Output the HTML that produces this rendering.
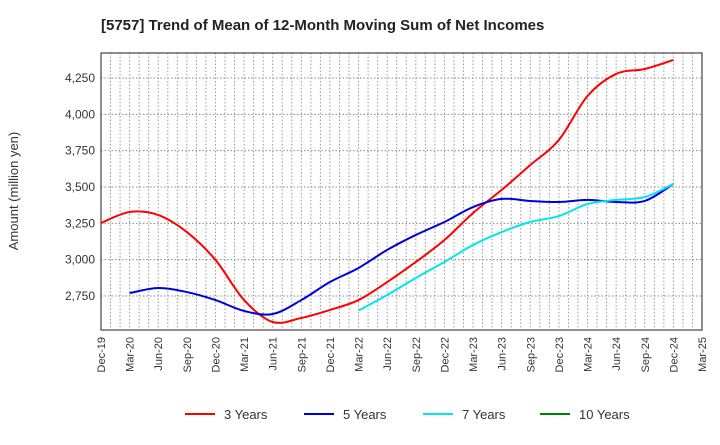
<!DOCTYPE html>
<html><head><meta charset="utf-8"><style>
body{margin:0;background:#fff;font-family:"Liberation Sans",sans-serif}
</style></head><body>
<svg width="720" height="440" xmlns="http://www.w3.org/2000/svg">
<text x="101" y="30" font-size="15" font-weight="bold" fill="#222">[5757]  Trend of Mean of 12-Month Moving Sum of Net Incomes</text>
<text transform="translate(18,191) rotate(-90)" text-anchor="middle" font-size="13" fill="#333">Amount (million yen)</text>
<g id="grid"></g><g id="axes"></g><g id="series"></g><g id="legend"></g>
</svg>
<script>
const xLabels=["Dec-19","Mar-20","Jun-20","Sep-20","Dec-20","Mar-21","Jun-21","Sep-21","Dec-21","Mar-22","Jun-22","Sep-22","Dec-22","Mar-23","Jun-23","Sep-23","Dec-23","Mar-24","Jun-24","Sep-24","Dec-24","Mar-25"];
const yTicks=[2750,3000,3250,3500,3750,4000,4250];
const yTickLabels=["2,750","3,000","3,250","3,500","3,750","4,000","4,250"];
const seriesNames=["3 Years","5 Years","7 Years","10 Years"];
const seriesColors=["#ff0000","#0000dd","#00e5ee","#008000"];
// quarter index (0 = Dec-19)
const q3=[0,1,2,3,4,5,6,7,8,9,10,11,12,13,14,15,16,17,18,19,20];
const v3=[3252,3328,3307,3190,2998,2722,2571,2599,2654,2722,2846,2984,3135,3321,3480,3651,3824,4126,4278,4312,4374];
const q5=[1,2,3,4,5,6,7,8,9,10,11,12,13,14,15,16,17,18,19,20];
const v5=[2770,2805,2777,2722,2647,2626,2722,2846,2943,3067,3170,3259,3362,3418,3404,3397,3411,3397,3404,3521];
const q7=[9,10,11,12,13,14,15,16,17,18,19,20];
const v7=[2650,2757,2874,2984,3101,3190,3259,3300,3383,3411,3431,3521];
const q10=[];
const v10=[];
const L=101,R=702,T=53,B=330,yMin=2516,yMax=4422;
const NS="http://www.w3.org/2000/svg";
const xq=q=>L+(R-L)*q/21;
const xm=m=>L+(R-L)*m/63;
const y=v=>B-(v-yMin)/(yMax-yMin)*(B-T);
function mk(tag,attrs,parent){const e=document.createElementNS(NS,tag);for(const k in attrs)e.setAttribute(k,attrs[k]);parent.appendChild(e);return e;}
const grid=document.getElementById('grid'),axes=document.getElementById('axes'),ser=document.getElementById('series'),leg=document.getElementById('legend');
for(let m=1;m<63;m++){const l=mk('line',{x1:xm(m),x2:xm(m),y1:T,y2:B,stroke:'#999','stroke-dasharray':'1.5,2','stroke-width':1},grid);

}
yTicks.forEach((t,i)=>{const l=mk('line',{x1:L,x2:R,y1:y(t),y2:y(t),stroke:'#888','stroke-dasharray':'1.5,2','stroke-width':1},grid);


const tx=mk('text',{x:L-6,y:y(t)+4,'text-anchor':'end','font-size':12,fill:'#333'},axes);tx.textContent=yTickLabels[i];

});
const fr=mk('rect',{x:L,y:T,width:R-L,height:B-T,fill:'none',stroke:'#444','stroke-width':1.2},axes);


xLabels.forEach((s,i)=>{const tx=mk('text',{transform:`translate(${xq(i)+4},${B+7}) rotate(-90)`,'text-anchor':'end','font-size':11,fill:'#333'},axes);tx.textContent=s;

});
function path(qs,vs){const p=qs.map((q,i)=>[xq(q),y(vs[i])]);if(p.length<2)return '';let d=`M${p[0][0]},${p[0][1]}`;
for(let i=0;i<p.length-1;i++){const p0=p[i-1]||p[i],p1=p[i],p2=p[i+1],p3=p[i+2]||p2;
const c1=[p1[0]+(p2[0]-p0[0])/6,p1[1]+(p2[1]-p0[1])/6],c2=[p2[0]-(p3[0]-p1[0])/6,p2[1]-(p3[1]-p1[1])/6];
d+=`C${c1[0]},${c1[1]} ${c2[0]},${c2[1]} ${p2[0]},${p2[1]}`;}return d;}
const data=[[q3,v3],[q5,v5],[q7,v7],[q10,v10]];
const names=['line-3-years','line-5-years','line-7-years','line-10-years'];
data.forEach((d,i)=>{const pth=mk('path',{d:path(d[0],d[1]),fill:'none',stroke:seriesColors[i],'stroke-width':2},ser);

});
const lx=[185,304,423,540];
seriesNames.forEach((n,i)=>{const g=mk('g',{},leg);


mk('line',{x1:lx[i],x2:lx[i]+30,y1:414,y2:414,stroke:seriesColors[i],'stroke-width':2},g);
const t=mk('text',{x:lx[i]+39,y:419,'font-size':13,fill:'#333'},g);t.textContent=n;});
</script>
</body></html>
